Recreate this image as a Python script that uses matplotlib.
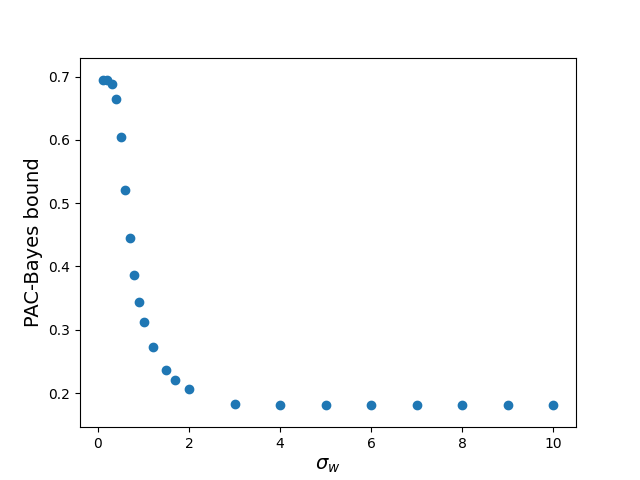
import matplotlib
matplotlib.use("Agg")
import matplotlib.pyplot as plt

sigma_w = [0.1, 0.2, 0.3, 0.4, 0.5, 0.6, 0.7, 0.8, 0.9, 1.0, 1.2, 1.5, 1.7, 2.0, 3, 4, 5, 6, 7, 8, 9, 10]
bound = [0.695, 0.695, 0.689, 0.665, 0.605, 0.521, 0.445, 0.387, 0.344, 0.312, 0.273, 0.237, 0.221, 0.206,
         0.183, 0.181, 0.181, 0.181, 0.181, 0.181, 0.181, 0.181]

fig, ax = plt.subplots(figsize=(6.4, 4.8), dpi=100)
ax.scatter(sigma_w, bound)
ax.set_ylim(0.146, 0.730)
ax.set_xlabel(r"$\sigma_w$", fontsize=14)
ax.set_ylabel("PAC-Bayes bound", fontsize=14)
fig.savefig("out.png")
